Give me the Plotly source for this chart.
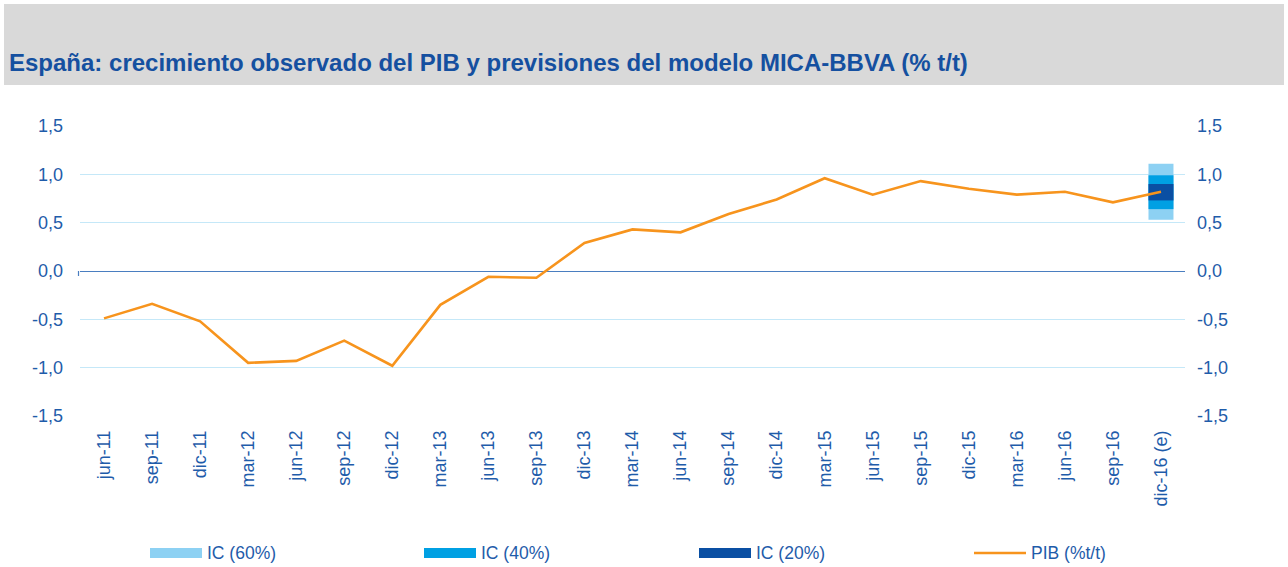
import plotly.graph_objects as go

categories = ["jun-11", "sep-11", "dic-11", "mar-12", "jun-12", "sep-12", "dic-12",
              "mar-13", "jun-13", "sep-13", "dic-13", "mar-14", "jun-14", "sep-14",
              "dic-14", "mar-15", "jun-15", "sep-15", "dic-15", "mar-16", "jun-16",
              "sep-16", "dic-16 (e)"]
pib = [-0.49, -0.34, -0.52, -0.95, -0.93, -0.72, -0.98, -0.35, -0.06, -0.07, 0.29,
       0.43, 0.40, 0.59, 0.74, 0.96, 0.79, 0.93, 0.85, 0.79, 0.82, 0.71, 0.82]
ic60_low = [None] * 22 + [0.53]
ic60_high = [None] * 22 + [1.11]
ic40_low = [None] * 22 + [0.64]
ic40_high = [None] * 22 + [0.99]
ic20_low = [None] * 22 + [0.73]
ic20_high = [None] * 22 + [0.90]
y_ticks = [-1.5, -1.0, -0.5, 0.0, 0.5, 1.0, 1.5]
y_ticklabels = ["-1,5", "-1,0", "-0,5", "0,0", "0,5", "1,0", "1,5"]
legend_names = ["IC (60%)", "IC (40%)", "IC (20%)", "PIB (%t/t)"]

C60 = "#8DD1F3"
C40 = "#00A0E3"
C20 = "#0A4FA3"
CPIB = "#F7941D"
TXT = "#1F5CAA"
FONT = "Liberation Sans, Arial, sans-serif"

L, R, T, B = 80, 1185, 126, 416
PW, PH = R - L, B - T

def px(xp):
    return (xp - L) / PW

def py(yp):
    return (B - yp) / PH

def diff(h, l):
    return [None if a is None else round(a - b, 4) for a, b in zip(h, l)]

fig = go.Figure()
for lo, hi, col in [(ic60_low, ic60_high, C60), (ic40_low, ic40_high, C40), (ic20_low, ic20_high, C20)]:
    fig.add_trace(go.Bar(x=categories, y=diff(hi, lo), base=lo, marker_color=col,
                         marker_line_width=0, width=0.52, showlegend=False, hoverinfo="skip"))
fig.add_trace(go.Scatter(x=categories, y=pib, mode="lines", line=dict(color=CPIB, width=2.6),
                         showlegend=False))
fig.add_trace(go.Scatter(x=categories, y=pib, yaxis="y2", mode="lines",
                         line=dict(width=0), showlegend=False, hoverinfo="skip", opacity=0))

shapes = [dict(type="rect", xref="paper", yref="paper",
               x0=px(4), x1=px(1284), y0=py(85), y1=py(4),
               fillcolor="#D9D9D9", line_width=0, layer="below"),
          dict(type="line", xref="paper", yref="paper", x0=px(78.5), x1=px(78.5),
               y0=py(271), y1=py(276), line=dict(color="#4A7EC0", width=1.2))]
annotations = [dict(text="<b>España: crecimiento observado del PIB y previsiones del modelo MICA-BBVA (% t/t)</b>",
                    xref="paper", yref="paper", x=px(7), y=py(62),
                    xanchor="left", yanchor="middle", showarrow=False,
                    font=dict(size=24, color="#1550A0", family=FONT))]

# manual legend
leg_x = [150, 424, 699, 974]
leg_cols = [C60, C40, C20, CPIB]
for i, (name, col) in enumerate(zip(legend_names, leg_cols)):
    x0 = leg_x[i]
    if i < 3:
        shapes.append(dict(type="rect", xref="paper", yref="paper", x0=px(x0), x1=px(x0 + 52),
                           y0=py(558), y1=py(548), fillcolor=col, line_width=0))
    else:
        shapes.append(dict(type="line", xref="paper", yref="paper", x0=px(x0), x1=px(x0 + 52),
                           y0=py(553), y1=py(553), line=dict(color=col, width=2.6)))
    annotations.append(dict(text=name, xref="paper", yref="paper", x=px(x0 + 55), y=py(553),
                            xanchor="left", yanchor="middle", showarrow=False,
                            font=dict(size=17.5, color=TXT, family=FONT)))

axis_common = dict(range=[-1.5, 1.5], tickmode="array", tickvals=y_ticks, ticktext=y_ticklabels,
                   tickfont=dict(size=18, color=TXT), ticks="", automargin=False)

fig.update_layout(
    width=1288, height=567,
    margin=dict(l=L, r=1288 - R, t=T, b=567 - B, autoexpand=False),
    paper_bgcolor="white", plot_bgcolor="white",
    barmode="overlay",
    showlegend=False,
    font=dict(family=FONT, color=TXT, size=17),
    xaxis=dict(type="category", tickangle=-90, showgrid=False, ticks="", automargin=False,
               tickfont=dict(size=18, color=TXT), showline=False, zeroline=False,
               ticklabelstandoff=10),
    yaxis=dict(**axis_common, gridcolor="#C5E8F8", gridwidth=1, zeroline=True,
               zerolinecolor="#4A7EC0", zerolinewidth=1.2, ticklabelstandoff=16),
    yaxis2=dict(**axis_common, overlaying="y", side="right", showgrid=False, zeroline=False,
                ticklabelstandoff=11),
    shapes=shapes,
    annotations=annotations,
)
fig.write_html("out.html", config={"displayModeBar": False},
               post_script="document.body.style.margin='0px';")
